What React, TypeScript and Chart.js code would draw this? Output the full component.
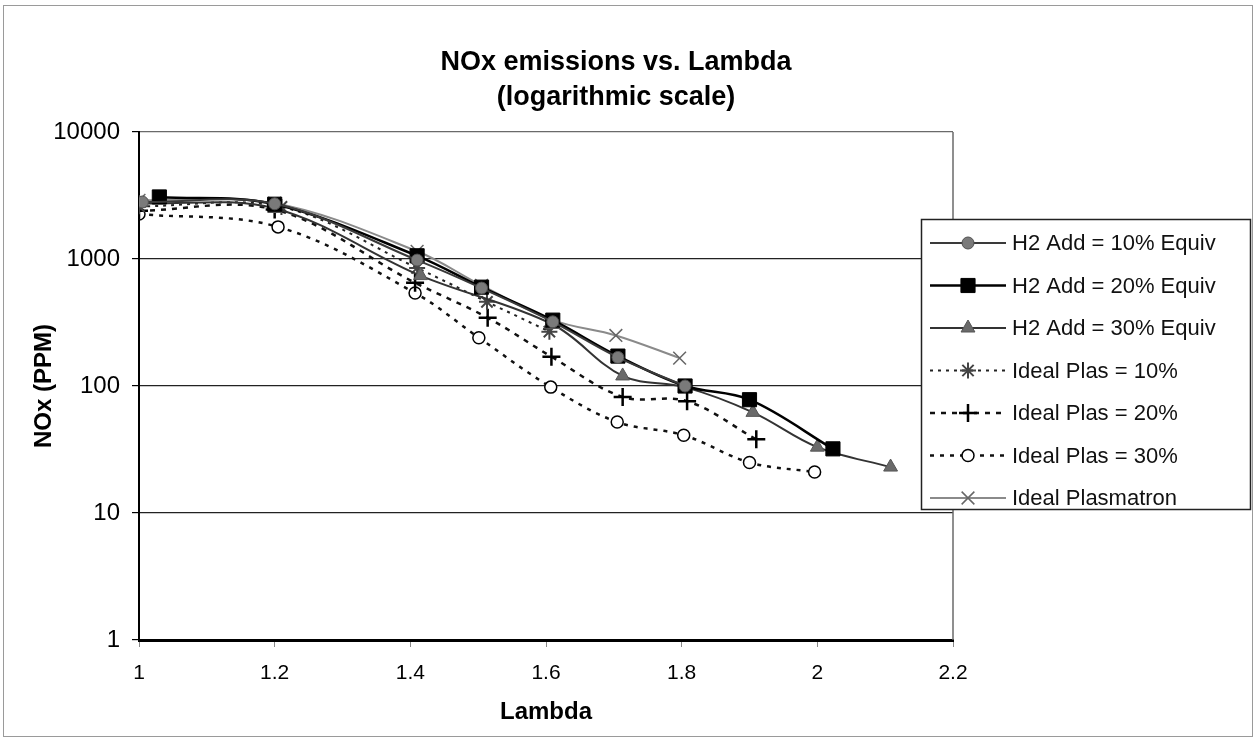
import React, { useEffect, useRef } from 'react';
import { Chart, registerables } from 'chart.js';

Chart.register(...registerables);

const FONT = '"Liberation Sans", Arial, sans-serif';

const titleLines = ['NOx emissions vs. Lambda', '(logarithmic scale)'];
const xAxisTitle = 'Lambda';
const yAxisTitle = 'NOx (PPM)';
const xTicks = [1, 1.2, 1.4, 1.6, 1.8, 2, 2.2];
const yTicks = [1, 10, 100, 1000, 10000];

const seriesNames = [
  'H2 Add = 10% Equiv',
  'H2 Add = 20% Equiv',
  'H2 Add = 30% Equiv',
  'Ideal Plas = 10%',
  'Ideal Plas = 20%',
  'Ideal Plas = 30%',
  'Ideal Plasmatron',
];

const h2Add10X = [1.005, 1.2, 1.41, 1.505, 1.61, 1.706, 1.805];
const h2Add10Y = [2810, 2720, 980, 590, 320, 168, 100];
const h2Add20X = [1.03, 1.2, 1.41, 1.505, 1.61, 1.706, 1.805, 1.9, 2.023];
const h2Add20Y = [3080, 2700, 1060, 600, 330, 172, 100, 78, 32];
const h2Add30X = [1.0, 1.2, 1.415, 1.61, 1.713, 1.805, 1.905, 2.0, 2.108];
const h2Add30Y = [2750, 2500, 740, 305, 120, 98, 62, 33, 23];
const idealPlas10X = [1.0, 1.21, 1.41, 1.513, 1.605];
const idealPlas10Y = [2600, 2570, 850, 460, 268];
const idealPlas20X = [1.0, 1.2, 1.407, 1.514, 1.608, 1.713, 1.808, 1.91];
const idealPlas20Y = [2400, 2450, 650, 345, 170, 82, 76, 38];
const idealPlas30X = [1.0, 1.205, 1.407, 1.501, 1.607, 1.705, 1.803, 1.9, 1.996];
const idealPlas30Y = [2260, 1790, 540, 240, 98, 52, 41, 25, 21];
const idealPlasmatronX = [1.0, 1.2, 1.41, 1.505, 1.61, 1.703, 1.797];
const idealPlasmatronY = [2900, 2750, 1150, 620, 330, 250, 166];

type Style = {
  line: string;
  width: number;
  dash: number[];
  point: string;
  radius: number;
  fill: string;
  stroke: string;
  pw: number;
};

const styles: Style[] = [
  { line: '#3a3a3a', width: 2, dash: [], point: 'circle', radius: 6, fill: '#7a7a7a', stroke: '#505050', pw: 1 },
  { line: '#000000', width: 2.5, dash: [], point: 'rect', radius: 10, fill: '#000000', stroke: '#000000', pw: 1 },
  { line: '#333333', width: 2, dash: [], point: 'triangle', radius: 8, fill: '#6a6a6a', stroke: '#555555', pw: 1 },
  { line: '#222222', width: 2, dash: [3, 5], point: 'star', radius: 8, fill: '#555555', stroke: '#444444', pw: 2 },
  { line: '#111111', width: 2.5, dash: [5, 6], point: 'cross', radius: 9, fill: '#000000', stroke: '#000000', pw: 2.5 },
  { line: '#111111', width: 2.5, dash: [4, 6], point: 'circle', radius: 6, fill: '#ffffff', stroke: '#000000', pw: 1.5 },
  { line: '#8a8a8a', width: 2, dash: [], point: 'crossRot', radius: 9, fill: '#666666', stroke: '#666666', pw: 1.5 },
];

const xs = [h2Add10X, h2Add20X, h2Add30X, idealPlas10X, idealPlas20X, idealPlas30X, idealPlasmatronX];
const ys = [h2Add10Y, h2Add20Y, h2Add30Y, idealPlas10Y, idealPlas20Y, idealPlas30Y, idealPlasmatronY];

function drawMarker(ctx: CanvasRenderingContext2D, s: Style, x: number, y: number) {
  const r = s.radius;
  ctx.save();
  ctx.setLineDash([]);
  ctx.fillStyle = s.fill;
  ctx.strokeStyle = s.stroke;
  ctx.lineWidth = s.pw;
  ctx.beginPath();
  if (s.point === 'circle') {
    ctx.arc(x, y, r, 0, Math.PI * 2);
    ctx.fill();
    ctx.stroke();
  } else if (s.point === 'rect') {
    const h = r * Math.SQRT1_2;
    ctx.rect(x - h, y - h, 2 * h, 2 * h);
    ctx.fill();
    ctx.stroke();
  } else if (s.point === 'triangle') {
    ctx.moveTo(x, y - r);
    ctx.lineTo(x + r * 0.866, y + r * 0.5);
    ctx.lineTo(x - r * 0.866, y + r * 0.5);
    ctx.closePath();
    ctx.fill();
    ctx.stroke();
  } else if (s.point === 'star') {
    const d = r * Math.SQRT1_2;
    ctx.moveTo(x - r, y); ctx.lineTo(x + r, y);
    ctx.moveTo(x, y - r); ctx.lineTo(x, y + r);
    ctx.moveTo(x - d, y - d); ctx.lineTo(x + d, y + d);
    ctx.moveTo(x - d, y + d); ctx.lineTo(x + d, y - d);
    ctx.stroke();
  } else if (s.point === 'cross') {
    ctx.moveTo(x - r, y); ctx.lineTo(x + r, y);
    ctx.moveTo(x, y - r); ctx.lineTo(x, y + r);
    ctx.stroke();
  } else if (s.point === 'crossRot') {
    const d = r * Math.SQRT1_2;
    ctx.moveTo(x - d, y - d); ctx.lineTo(x + d, y + d);
    ctx.moveTo(x - d, y + d); ctx.lineTo(x + d, y - d);
    ctx.stroke();
  }
  ctx.restore();
}

const decorPlugin = {
  id: 'decor',
  beforeDatasetsDraw(chart: any) {
    const { ctx, chartArea } = chart;
    ctx.save();
    ctx.strokeStyle = '#6a6a6a';
    ctx.lineWidth = 1.5;
    ctx.beginPath();
    ctx.moveTo(chartArea.right, chartArea.top);
    ctx.lineTo(chartArea.right, chartArea.bottom);
    ctx.stroke();
    ctx.restore();
  },
  afterDraw(chart: any) {
    const ctx: CanvasRenderingContext2D = chart.ctx;
    ctx.save();
    // outer frame
    ctx.strokeStyle = '#9a9a9a';
    ctx.lineWidth = 1;
    ctx.strokeRect(3.5, 5.5, 1249, 731);
    // title
    ctx.fillStyle = '#000';
    ctx.font = `bold 27px ${FONT}`;
    ctx.textAlign = 'center';
    ctx.textBaseline = 'alphabetic';
    ctx.fillText(titleLines[0], 616, 70);
    ctx.fillText(titleLines[1], 616, 105);
    // legend
    const lx = 921, ly = 219, lw = 329, lh = 290;
    ctx.fillStyle = '#ffffff';
    ctx.fillRect(lx, ly, lw, lh);
    ctx.strokeStyle = '#222';
    ctx.lineWidth = 1.5;
    ctx.strokeRect(lx + 0.5, ly + 0.5, lw, lh);
    ctx.font = `22px ${FONT}`;
    ctx.textAlign = 'left';
    ctx.textBaseline = 'middle';
    for (let i = 0; i < seriesNames.length; i++) {
      const s = styles[i];
      const cy = ly + 24 + i * 42.5;
      ctx.save();
      ctx.strokeStyle = s.line;
      ctx.lineWidth = s.width;
      ctx.setLineDash(s.dash);
      ctx.beginPath();
      ctx.moveTo(930, cy);
      ctx.lineTo(1006, cy);
      ctx.stroke();
      ctx.restore();
      drawMarker(ctx, s, 968, cy);
      ctx.fillStyle = '#111';
      ctx.fillText(seriesNames[i], 1012, cy + 1);
    }
    ctx.restore();
  },
};

export default function App() {
  const ref = useRef<HTMLCanvasElement | null>(null);

  useEffect(() => {
    document.body.style.margin = '0';
    const canvas = ref.current;
    if (!canvas) return;
    const datasets = seriesNames.map((name, i) => {
      const s = styles[i];
      return {
        label: name,
        data: xs[i].map((x, j) => ({ x, y: ys[i][j] })),
        borderColor: s.line,
        borderWidth: s.width,
        borderDash: s.dash,
        backgroundColor: s.fill,
        pointStyle: s.point,
        pointRadius: s.radius,
        pointBackgroundColor: s.fill,
        pointBorderColor: s.stroke,
        pointBorderWidth: s.pw,
        pointHoverRadius: s.radius,
        tension: 0.35,
        fill: false,
      };
    });
    const chart = new Chart(canvas, {
      type: 'line',
      data: { datasets },
      options: {
        responsive: false,
        animation: false,
        maintainAspectRatio: false,
        layout: { padding: { left: 0, right: 303, top: 132, bottom: 0 } },
        plugins: {
          legend: { display: false },
          title: { display: false },
          tooltip: { enabled: false },
        },
        scales: {
          x: {
            type: 'linear',
            min: 1,
            max: 2.2,
            afterBuildTicks: (axis: any) => {
              axis.ticks = xTicks.map((v) => ({ value: v }));
            },
            afterFit: (axis: any) => {
              axis.height = 100;
            },
            ticks: {
              autoSkip: false,
              maxRotation: 0,
              padding: 14,
              color: '#000',
              font: { family: FONT, size: 21 },
              callback: (v: any) => String(v),
            },
            grid: {
              drawOnChartArea: false,
              drawTicks: true,
              tickLength: 7,
              tickColor: '#888',
            },
            border: { color: '#000', width: 3 },
            title: {
              display: true,
              text: xAxisTitle,
              color: '#000',
              font: { family: FONT, size: 24, weight: 'bold' },
              padding: { top: 0, bottom: 13 },
            },
          },
          y: {
            type: 'logarithmic',
            min: 1,
            max: 10000,
            afterBuildTicks: (axis: any) => {
              axis.ticks = yTicks.map((v) => ({ value: v }));
            },
            afterFit: (axis: any) => {
              axis.width = 139;
            },
            ticks: {
              autoSkip: false,
              padding: 12,
              color: '#000',
              font: { family: FONT, size: 24 },
              callback: (v: any) => String(v),
            },
            grid: {
              drawTicks: true,
              tickLength: 7,
              tickColor: '#000',
              lineWidth: 1.2,
              color: (c: any) => {
                const v = c.tick && c.tick.value;
                if (v === 10000) return '#6a6a6a';
                if (v === 1) return 'rgba(0,0,0,0)';
                return '#222';
              },
            },
            border: { color: '#000', width: 2 },
            title: {
              display: true,
              text: yAxisTitle,
              color: '#000',
              font: { family: FONT, size: 24, weight: 'bold' },
              padding: { top: 30, bottom: 0 },
            },
          },
        },
      },
      plugins: [decorPlugin],
    } as any);
    return () => chart.destroy();
  }, []);

  return (
    <div style={{ width: 1256, height: 740, background: '#fff' }}>
      <canvas ref={ref} width={1256} height={740} style={{ display: 'block', width: 1256, height: 740 }} />
    </div>
  );
}
